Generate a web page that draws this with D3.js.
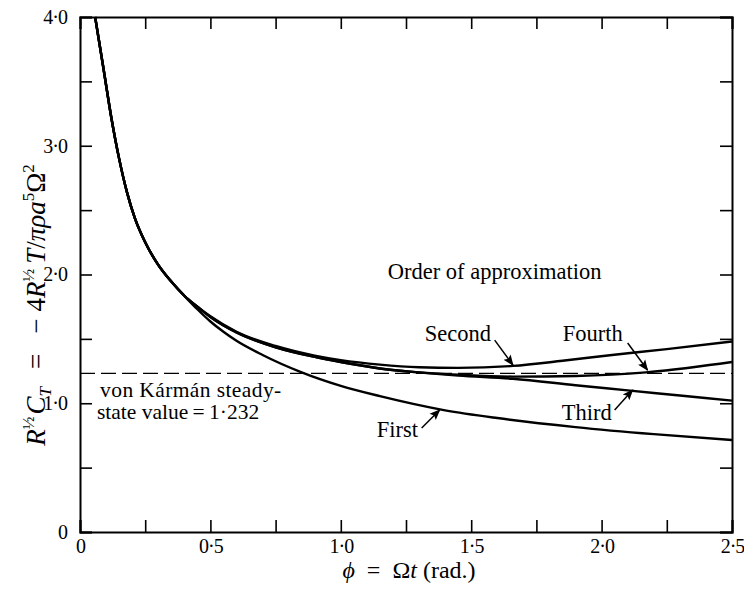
<!DOCTYPE html>
<html>
<head>
<meta charset="utf-8">
<script src="https://cdn.jsdelivr.net/npm/d3@7"></script>
<style>
  body { margin: 0; background: #fff; }
  .axis path, .axis line { stroke: #000; }
  .axis path { stroke-width: 2; }
  .axis line { stroke-width: 1.6; }
</style>
</head>
<body>
<svg id="svg" width="744" height="591"></svg>
<script>
const width = 744;
const height = 591;
const serif = '"Liberation Serif"';

// data
const headX = [0.058, 0.09, 0.12, 0.15, 0.18, 0.21, 0.25, 0.3, 0.35, 0.4];
const headY = [4.0, 3.6, 3.22, 2.9, 2.64, 2.44, 2.25, 2.075, 1.945, 1.835];

const firstX = [0.45, 0.5, 0.55, 0.6, 0.7, 0.85, 1.0, 1.15, 1.4, 1.6, 1.9, 2.2, 2.5];
const firstY = [1.73, 1.635, 1.555, 1.485, 1.375, 1.24, 1.135, 1.055, 0.945, 0.885, 0.815, 0.76, 0.715];

const secondX = [0.45, 0.5, 0.6, 0.75, 0.9, 1.0, 1.15, 1.3, 1.45, 1.66, 1.85, 2.04, 2.25, 2.5];
const secondY = [1.75, 1.675, 1.555, 1.445, 1.37, 1.335, 1.3, 1.28, 1.275, 1.29, 1.33, 1.375, 1.42, 1.48];

const thirdX = [0.45, 0.5, 0.6, 0.75, 0.9, 1.0, 1.15, 1.3, 1.45, 1.66, 1.9, 2.1, 2.3, 2.5];
const thirdY = [1.75, 1.67, 1.55, 1.435, 1.36, 1.32, 1.27, 1.24, 1.215, 1.19, 1.14, 1.1, 1.06, 1.02];

const fourthX = [0.45, 0.5, 0.6, 0.75, 0.9, 1.0, 1.15, 1.3, 1.45, 1.66, 1.9, 2.17, 2.35, 2.5];
const fourthY = [1.75, 1.67, 1.55, 1.435, 1.36, 1.32, 1.27, 1.24, 1.222, 1.207, 1.212, 1.24, 1.28, 1.32];

const steadyValue = 1.232;

const xTickLabels = [0, 0.5, 1.0, 1.5, 2.0, 2.5];
const yTickLabels = [0, 1.0, 2.0, 3.0, 4.0];

const fmt = (d) => (d === 0 ? "0" : d3.format(".1f")(d).replace(".", "\u00b7"));

const svg = d3.select("#svg");
svg.append("rect").attr("width", width).attr("height", height).attr("fill", "#fff");

const x = d3.scaleLinear().domain([0, 2.5]).range([80, 732]);
const y = d3.scaleLinear().domain([0, 4]).range([532, 17]);

const xMinor = d3.range(0, 2.51, 0.25);
const yMinor = d3.range(0, 4.01, 0.5);

// axes, ticks pointing inward
svg.append("g").attr("class", "axis")
  .attr("transform", `translate(0,${y(0)})`)
  .call(d3.axisBottom(x).tickValues(xMinor).tickSize(-12).tickPadding(7)
    .tickFormat((d) => (xTickLabels.includes(+d.toFixed(2)) ? fmt(d) : "")));

svg.append("g").attr("class", "axis")
  .attr("transform", `translate(0,${y(4)})`)
  .call(d3.axisTop(x).tickValues(xMinor).tickSize(-12).tickFormat(""));

svg.append("g").attr("class", "axis")
  .attr("transform", `translate(${x(0)},0)`)
  .call(d3.axisLeft(y).tickValues(yMinor).tickSize(-12).tickPadding(13)
    .tickFormat((d) => (yTickLabels.includes(d) ? fmt(d) : "")));

svg.append("g").attr("class", "axis")
  .attr("transform", `translate(${x(2.5)},0)`)
  .call(d3.axisRight(y).tickValues(yMinor).tickSize(-12).tickFormat(""));

svg.selectAll(".axis text")
  .style("font-family", serif)
  .style("font-size", "20px")
  .style("letter-spacing", "-1px")
  .attr("fill", "#000");

// steady-state dashed line
svg.append("line")
  .attr("x1", x(0)).attr("x2", x(2.5))
  .attr("y1", y(steadyValue)).attr("y2", y(steadyValue))
  .attr("stroke", "#000").attr("stroke-width", 1.1)
  .attr("stroke-dasharray", "15,6");

// curves
const line = d3.line()
  .x((d) => x(d[0]))
  .y((d) => y(d[1]))
  .curve(d3.curveMonotoneX);

const series = [
  [firstX, firstY],
  [secondX, secondY],
  [thirdX, thirdY],
  [fourthX, fourthY],
].map(([xs, ys]) => d3.zip(headX.concat(xs), headY.concat(ys)));

svg.selectAll(".curve")
  .data(series)
  .enter()
  .append("path")
  .attr("class", "curve")
  .attr("d", line)
  .attr("fill", "none")
  .attr("stroke", "#000")
  .attr("stroke-width", 2.4);

// arrow marker
svg.append("defs").append("marker")
  .attr("id", "arrow")
  .attr("viewBox", "0 0 10 10")
  .attr("refX", 9).attr("refY", 5)
  .attr("markerWidth", 11).attr("markerHeight", 11)
  .attr("markerUnits", "userSpaceOnUse")
  .attr("orient", "auto")
  .append("path")
  .attr("d", "M0,1 L10,5 L0,9 L2,5 Z")
  .attr("fill", "#000");

// labels with arrows (data units)
const labels = [
  { text: "Second", tx: 1.322, ty: 1.483, ax: [1.59, 1.66], ay: [1.49, 1.297] },
  { text: "Fourth", tx: 1.851, ty: 1.483, ax: [2.1, 2.176], ay: [1.468, 1.258] },
  { text: "Third", tx: 1.847, ty: 0.87, ax: [2.05, 2.119], ay: [0.948, 1.103] },
  { text: "First", tx: 1.138, ty: 0.738, ax: [1.31, 1.379], ay: [0.808, 0.948] },
];

const addText = (px, py, str, size) =>
  svg.append("text")
    .attr("x", px).attr("y", py)
    .style("font-family", serif)
    .style("font-size", size + "px")
    .attr("fill", "#000")
    .text(str);

labels.forEach((l) => {
  addText(x(l.tx), y(l.ty), l.text, 22.5);
  svg.append("line")
    .attr("x1", x(l.ax[0])).attr("y1", y(l.ay[0]))
    .attr("x2", x(l.ax[1])).attr("y2", y(l.ay[1]))
    .attr("stroke", "#000").attr("stroke-width", 1.5)
    .attr("marker-end", "url(#arrow)");
});

addText(x(1.18), y(1.965), "Order of approximation", 22.5);
addText(x(0.077), y(1.052), "von K\u00e1rm\u00e1n steady-", 21.5)
  .style("letter-spacing", "0.4px");
addText(x(0.065), y(0.875), "state value\u2009=\u20091\u00b7232", 21.5);

// x axis title
const xt = svg.append("text")
  .attr("x", 409).attr("y", 578)
  .attr("text-anchor", "middle")
  .attr("fill", "#000")
  .style("font-family", serif)
  .style("font-size", "24px");
xt.append("tspan").style("font-style", "italic").text("\u03d5");
xt.append("tspan").text("\u2002=\u2002\u03a9");
xt.append("tspan").style("font-style", "italic").text("t");
xt.append("tspan").text(" (rad.)");

// y axis title
const yt = svg.append("text")
  .attr("transform", "translate(45,305) rotate(-90)")
  .attr("text-anchor", "middle")
  .attr("fill", "#000")
  .style("font-family", serif)
  .style("font-size", "27px")
  .style("font-style", "italic");
const sup = (t) => yt.append("tspan").style("font-size", "17px").attr("dy", -11).style("font-style", "normal").text(t);
yt.append("tspan").text("R");
sup("\u00bd");
yt.append("tspan").attr("dy", 11).attr("dx", 2).text("C");
yt.append("tspan").style("font-size", "17px").attr("dy", 6).text("T");
yt.append("tspan").attr("dy", -6).attr("dx", 18).style("font-style", "normal").text("=");
yt.append("tspan").attr("dx", 20).style("font-style", "normal").text("\u2212");
yt.append("tspan").attr("dx", 7).style("font-style", "normal").text("4");
yt.append("tspan").text("R");
sup("\u00bd");
yt.append("tspan").attr("dy", 11).attr("dx", 5).text("T");
yt.append("tspan").style("font-style", "normal").text("/");
yt.append("tspan").text("\u03c0\u03c1a");
sup("5");
yt.append("tspan").attr("dy", 11).style("font-style", "normal").text("\u03a9");
sup("2");
</script>
</body>
</html>
